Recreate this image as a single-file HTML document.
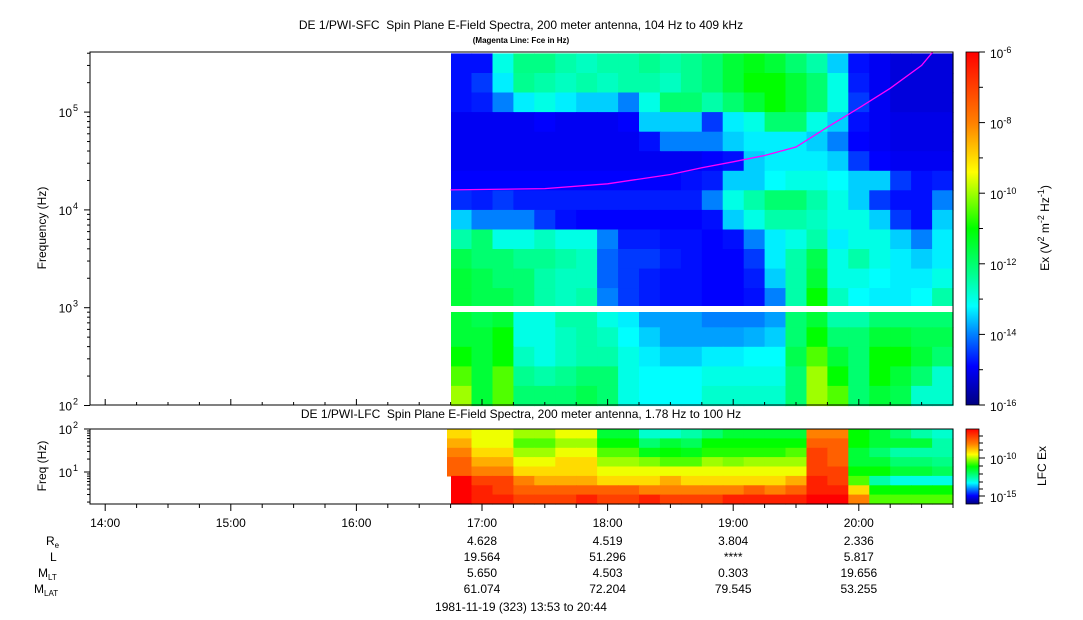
<!DOCTYPE html>
<html><head><meta charset="utf-8">
<style>
html,body{margin:0;padding:0;background:#fff;}
body{width:1083px;height:620px;overflow:hidden;font-family:"Liberation Sans",sans-serif;}
svg{display:block;}
text{font-family:"Liberation Sans",sans-serif;fill:#000;white-space:pre;}
</style></head>
<body>
<svg id="chart" width="1083" height="620" viewBox="0 0 1083 620" xmlns="http://www.w3.org/2000/svg">
<text x="521" y="29" font-size="12" text-anchor="middle" xml:space="preserve">DE 1/PWI-SFC  Spin Plane E-Field Spectra, 200 meter antenna, 104 Hz to 409 kHz</text>
<text x="521" y="43" font-size="8" font-weight="bold" text-anchor="middle">(Magenta Line: Fce in Hz)</text>
<text x="521" y="418" font-size="12" text-anchor="middle" xml:space="preserve">DE 1/PWI-LFC  Spin Plane E-Field Spectra, 200 meter antenna, 1.78 Hz to 100 Hz</text>
<g id="topCells"></g>
<g id="botCells"></g>
<rect x="451" y="306" width="502" height="6" fill="#fff"/>
<path id="fceLine" fill="none" stroke="#ff00ff" stroke-width="1.3"/>
<rect x="90" y="52" width="863" height="353" fill="none" stroke="#000" stroke-width="1"/>
<rect x="90" y="429" width="863" height="75" fill="none" stroke="#000" stroke-width="1"/>
<g id="axes"></g>
<defs><linearGradient id="cmap" x1="0" y1="1" x2="0" y2="0">
<stop offset="0" stop-color="#000080"/><stop offset="0.11" stop-color="#0000ff"/><stop offset="0.2" stop-color="#0080ff"/><stop offset="0.28" stop-color="#00ffff"/><stop offset="0.37" stop-color="#00ff90"/><stop offset="0.5" stop-color="#00ff00"/><stop offset="0.66" stop-color="#ffff00"/><stop offset="0.8" stop-color="#ff8000"/><stop offset="1" stop-color="#ff0000"/>
</linearGradient></defs>
<rect x="966" y="52" width="13" height="353" fill="url(#cmap)" stroke="#000" stroke-width="0.8"/>
<rect x="966" y="429" width="13" height="75" fill="url(#cmap)" stroke="#000" stroke-width="0.8"/>
<text transform="translate(46,228) rotate(-90)" font-size="12" text-anchor="middle">Frequency (Hz)</text>
<text transform="translate(46,466) rotate(-90)" font-size="12" text-anchor="middle">Freq (Hz)</text>
<text transform="translate(1049,228) rotate(-90)" font-size="12" text-anchor="middle">Ex (V<tspan baseline-shift="super" font-size="9">2</tspan> m<tspan baseline-shift="super" font-size="9">-2</tspan> Hz<tspan baseline-shift="super" font-size="9">-1</tspan>)</text>
<text transform="translate(1046,466) rotate(-90)" font-size="12" text-anchor="middle">LFC Ex</text>
<g font-size="12">
<text x="46" y="545">R<tspan font-size="8" dy="3">e</tspan></text>
<text x="50" y="561">L</text>
<text x="38" y="577">M<tspan font-size="8" dy="3">LT</tspan></text>
<text x="34" y="593">M<tspan font-size="8" dy="3">LAT</tspan></text>
</g>
<g id="ephem"></g>
<text x="521" y="611" font-size="12" text-anchor="middle">1981-11-19 (323) 13:53 to 20:44</text>
</svg>
<script>
// ---- data ----
const colTimes0 = 16.75;
const colMinutes = 10;
const sfcRowTopLogF = [5.6,5.4,5.2,5.0,4.8,4.6,4.4,4.2,4.0,3.8,3.6,3.4,3.2,3.0,2.8,2.6,2.4,2.2];
// values = log10(power)+16 (0..10)
const sfcR0=[1.2,1.2,3,3.8,3.8,3.5,3.3,3.5,3.5,3.7,3.5,3.7,4,4.5,4.8,4.5,4,3.5,2.5,1.2,1,0.8,0.8,0.8];
const sfcR1=[1.2,1.5,2.7,3.7,3.5,3.3,3.5,3.3,3.5,3.5,3.3,3.7,4,4.5,5,5,4.5,4,3,1.3,1,0.8,0.8,0.8];
const sfcR2=[1.2,1.3,2,2.7,3,2.7,2.5,2.5,2,3,4,4,3.5,4,4.5,5,4.5,4,3,1.5,1,0.8,0.8,0.8];
const sfcR3=[1,1,1,1,1.1,1,1,1,1.1,2.5,2.5,2.5,1.5,2.7,3,4,4,3,2.5,1.2,1,0.9,0.9,0.9];
const sfcR4=[1,1,1,1,1,1,1,1,1,1.2,2,2,2,2.5,2.7,2.7,2.7,2.5,2,1.1,1,0.9,0.9,0.9];
const sfcR5=[1,1,1,1,1,1,1,1,1,1,1,1,1.1,1.2,2.5,2.7,2.7,2.7,2.5,1.5,1.1,1,1,1];
const sfcR6=[1.1,1.1,1.1,1.1,1.1,1.1,1.1,1.1,1.1,1.1,1.1,1.2,1.3,2.5,2.5,2.8,3,3,2.8,2.5,2.5,1.5,1.2,1.3];
const sfcR7=[1.4,1.3,1.5,1.3,1.3,1.3,1.3,1.3,1.3,1.3,1.3,1.3,2,3,3.5,4,4,3.5,3,2.5,1.5,1.2,1.2,2];
const sfcR8=[2.5,2,2,2,1.5,1.2,1.1,1.1,1.1,1.1,1.1,1.1,1.2,2.5,3,3.5,3.5,3.3,3,3,2.5,1.5,1.2,2.5];
const sfcR9=[3.5,4,3,3,3.3,3,3,2,1.3,1.3,1.2,1.2,1.1,1.2,2,2.7,3,3.5,2.7,3,3,2.5,2,2.7];
const sfcR10=[4.3,4,4,3.7,3.7,3.5,3.3,1.8,1.5,1.5,1.3,1.2,1.1,1.1,1.5,2.7,3.5,4.3,3,3.5,3,2.7,2.5,2.7];
const sfcR11=[4.5,4.3,4,4,3.5,3.3,3.3,1.8,1.5,1.3,1.2,1.2,1.1,1.1,1.3,2.5,3.5,4.5,3,3,2.8,2.7,2.7,3];
const sfcR12=[4.5,4.3,4.3,4,3.5,3.3,3.5,2,1.5,1.3,1.2,1.2,1.1,1.1,1.2,2,3.5,5,3.3,2.8,2.7,2.7,2.8,3.5];
const sfcR13=[4.5,4.3,4.5,3,3,3.5,3.5,3,2.7,2.2,2.2,2.2,2,2,2,2.2,4,4.5,3.5,3.5,4,4,4,4];
const sfcR14=[4.5,4.5,5,3,3,3.3,3.5,3.3,2.8,2.5,2.2,2.2,2.2,2.2,2.3,2.5,4,5,4,4,4.5,4.5,4.3,4.3];
const sfcR15=[5,4.5,5,3.3,3,3.3,3.5,3.5,3,2.7,2.5,2.5,2.7,2.7,2.8,2.8,4.3,5.5,4.5,4,5,5,4.5,4];
const sfcR16=[5.5,4.5,5.5,3.7,3.5,3.7,4,4,3,2.8,2.8,2.8,3,3,3,3,4,6,5,4,5,4.5,4,3.2];
const sfcR17=[6,4.5,5.5,4,4,4,4.3,4,3,2.8,2.8,2.8,3.2,3.2,3.2,3.2,4,6,5.5,4,4.5,4.3,3.2,3.2];
const sfcRows=[sfcR0,sfcR1,sfcR2,sfcR3,sfcR4,sfcR5,sfcR6,sfcR7,sfcR8,sfcR9,sfcR10,sfcR11,sfcR12,sfcR13,sfcR14,sfcR15,sfcR16,sfcR17];
const lfcB0=[7,6.5,6.5,6,6,6.5,6.5,4.5,4.5,3.2,3.2,3.5,4,4.5,4.5,4.5,4.5,8,8,5,4.5,4,3.5,3.2];
const lfcB1=[7.5,6.5,6.5,5.5,5.5,6,6,5,5,4,4.5,4.2,5,5,5,5,5,8.5,8.5,5,4.5,4.5,4.5,3.5];
const lfcB2=[8,7,7,6,6,6.5,6.5,5.5,5.5,4.8,5,4.8,5.2,5.2,5.2,5.2,5.5,9,8.5,4.5,4,3.5,3.5,3.5];
const lfcB3=[8.5,7.5,7.5,6.5,6.5,7,7,6,6,5.8,5.5,5.5,6,5.8,6,6,6,9,8.5,4.5,4.5,4,4,3.8];
const lfcB4=[8.5,8,8,7,7,7,7,6.5,6.5,6.5,6.5,6.5,6.5,6.5,6.5,6.5,6.5,9,9,5,5,4.5,4.5,4.2];
const lfcB5=[10,9,9,8,7.5,7.5,7.5,7,7,7,7.5,7,7,7,7,7,7.5,9.5,9,5.5,3.5,3,3,3];
const lfcB6=[10,9.5,9,8.5,8.5,8.5,8.5,8.5,8.5,8,8,8,8,8,8.5,8,8.5,9.5,9.5,7,5,5,5,5];
const lfcB7=[10,9.5,9.5,9,9,9,9.5,9,9,9.5,9,9,9,9.5,9.5,9.5,9.5,10,10,8,5.5,5.5,5.5,5.5];
const lfcBands=[lfcB0,lfcB1,lfcB2,lfcB3,lfcB4,lfcB5,lfcB6,lfcB7];
const fceHours=[16.75,17.5,18.0,18.5,18.75,19.0,19.25,19.5,19.75,20.0,20.25,20.5,20.59];
const fceKHz=[16,16.5,18.5,23,27,31,36,44,70,110,175,300,414];
const hourLabels=["14:00","15:00","16:00","17:00","18:00","19:00","20:00"];
const hourValues=[14,15,16,17,18,19,20];
const ephemHours=[17,18,19,20];
const ephemRe=["4.628","4.519","3.804","2.336"];
const ephemL=["19.564","51.296","****","5.817"];
const ephemMLT=["5.650","4.503","0.303","19.656"];
const ephemMLAT=["61.074","72.204","79.545","53.255"];
const sfcCbarExp=[-6,-8,-10,-12,-14,-16];

// ---- scales ----
const NS="http://www.w3.org/2000/svg";
const xT=h=>482+(h-17)*125.6;
const yF=lf=>405.5-(lf-2)*97.8;
const yL=lf=>429+(2-lf)*43;
const xStart=451, plotRight=953;
const stops=[[0,[0,0,128]],[1.1,[0,0,255]],[2,[0,128,255]],[2.8,[0,255,255]],[3.7,[0,255,144]],[5,[0,255,0]],[6.6,[255,255,0]],[8,[255,128,0]],[10,[255,0,0]]];
function cmap(v){v=Math.max(0,Math.min(10,v));for(let i=1;i<stops.length;i++){if(v<=stops[i][0]){const a=stops[i-1],b=stops[i],f=(v-a[0])/(b[0]-a[0]);const c=a[1].map((x,k)=>Math.round(x+(b[1][k]-x)*f));return `rgb(${c[0]},${c[1]},${c[2]})`;}}return "rgb(255,0,0)";}
function mk(tag,attrs,parent){const e=document.createElementNS(NS,tag);for(const k in attrs)e.setAttribute(k,attrs[k]);parent.appendChild(e);return e;}

const topG=document.getElementById('topCells');
sfcRows.forEach((row,r)=>{
  const y0=Math.max(52,yF(sfcRowTopLogF[r])), y1=yF(sfcRowTopLogF[r]-0.2);
  row.forEach((v,c)=>{
    const t0=colTimes0+c*colMinutes/60;
    const x0=Math.max(xStart,xT(t0)), x1=Math.min(plotRight,xT(t0+colMinutes/60));
    const e=mk('rect',{x:x0.toFixed(1),y:y0.toFixed(1),width:(x1-x0+0.6).toFixed(1),height:(y1-y0+0.6).toFixed(1),fill:cmap(v)},topG);
    
    
  });
});
const botG=document.getElementById('botCells');
const bandH=75/lfcBands.length;
lfcBands.forEach((row,r)=>{
  const y0=429+r*bandH;
  row.forEach((v,c)=>{
    const t0=colTimes0+c*colMinutes/60;
    let x0=Math.max(xStart,xT(t0)); if(c===0&&r<5)x0=447;
    const x1=Math.min(plotRight,xT(t0+colMinutes/60));
    const e=mk('rect',{x:x0.toFixed(1),y:y0.toFixed(1),width:(x1-x0+0.6).toFixed(1),height:(bandH+0.6).toFixed(1),fill:cmap(v)},botG);
    
    
  });
});
document.getElementById('fceLine').setAttribute('d',fceHours.map((h,i)=>(i?'L':'M')+xT(h).toFixed(1)+','+yF(Math.log10(fceKHz[i]*1000)).toFixed(1)).join(' '));

const ax=document.getElementById('axes');
function line(x1,y1,x2,y2){const e=mk('line',{x1,y1,x2,y2,stroke:'#000','stroke-width':1},ax);}
function txt(x,y,s,anchor,size,sup){const e=mk('text',{x,y,'font-size':size||12,'text-anchor':anchor||'middle'},ax);e.textContent=s;if(sup!==undefined){const ts=mk('tspan',{'baseline-shift':'super','font-size':9},e);ts.textContent=sup;}return e;}
for(let d=2;d<=5;d++){line(84,yF(d),90,yF(d));txt(72,yF(d)+5,'10','end',12);txt(73,yF(d)-1,String(d),'start',9);}
for(let d=2;d<=5;d++)for(let m=2;m<=9;m++){const lf=d+Math.log10(m);if(lf<=5.615)line(87,yF(lf),90,yF(lf));}
[2,1].forEach(d=>{line(84,yL(d),90,yL(d));txt(72,yL(d)+5,'10','end',12);txt(73,yL(d)-1,String(d),'start',9);});
for(let m=2;m<=9;m++){line(87,yL(1+Math.log10(m)),90,yL(1+Math.log10(m)));if(Math.log10(m)>=0.3)line(87,yL(Math.log10(m)),90,yL(Math.log10(m)));}
for(let h=14;h<=20.75;h+=0.25){const x=xT(h);if(x<90)continue;const maj=Math.abs(h-Math.round(h))<1e-6;line(x,504,x,maj?511:508);line(x,405,x,maj?399:402);}
hourLabels.forEach((s,i)=>txt(xT(hourValues[i]),527,s,'middle',12));
sfcCbarExp.forEach((e,i)=>{const y=52+i*353/5;line(979,y,985,y);txt(990,y+6,'10','start',12,String(e));});
for(let k=1;k<10;k+=2){const y=52+k*35.3;line(979,y,983,y);}
[[458,-10],[496,-15]].forEach(([y,e])=>{line(979,y,985,y);txt(990,y+6,'10','start',12,String(e));});
for(const y of [436,443,450,466,474,482,489,503])line(979,y,983,y);
const eg=document.getElementById('ephem');
[ephemRe,ephemL,ephemMLT,ephemMLAT].forEach((arr,r)=>arr.forEach((s,i)=>{const e=mk('text',{x:xT(ephemHours[i]),y:545+r*16,'font-size':12,'text-anchor':'middle'},eg);e.textContent=s;}));
</script>
</body></html>
